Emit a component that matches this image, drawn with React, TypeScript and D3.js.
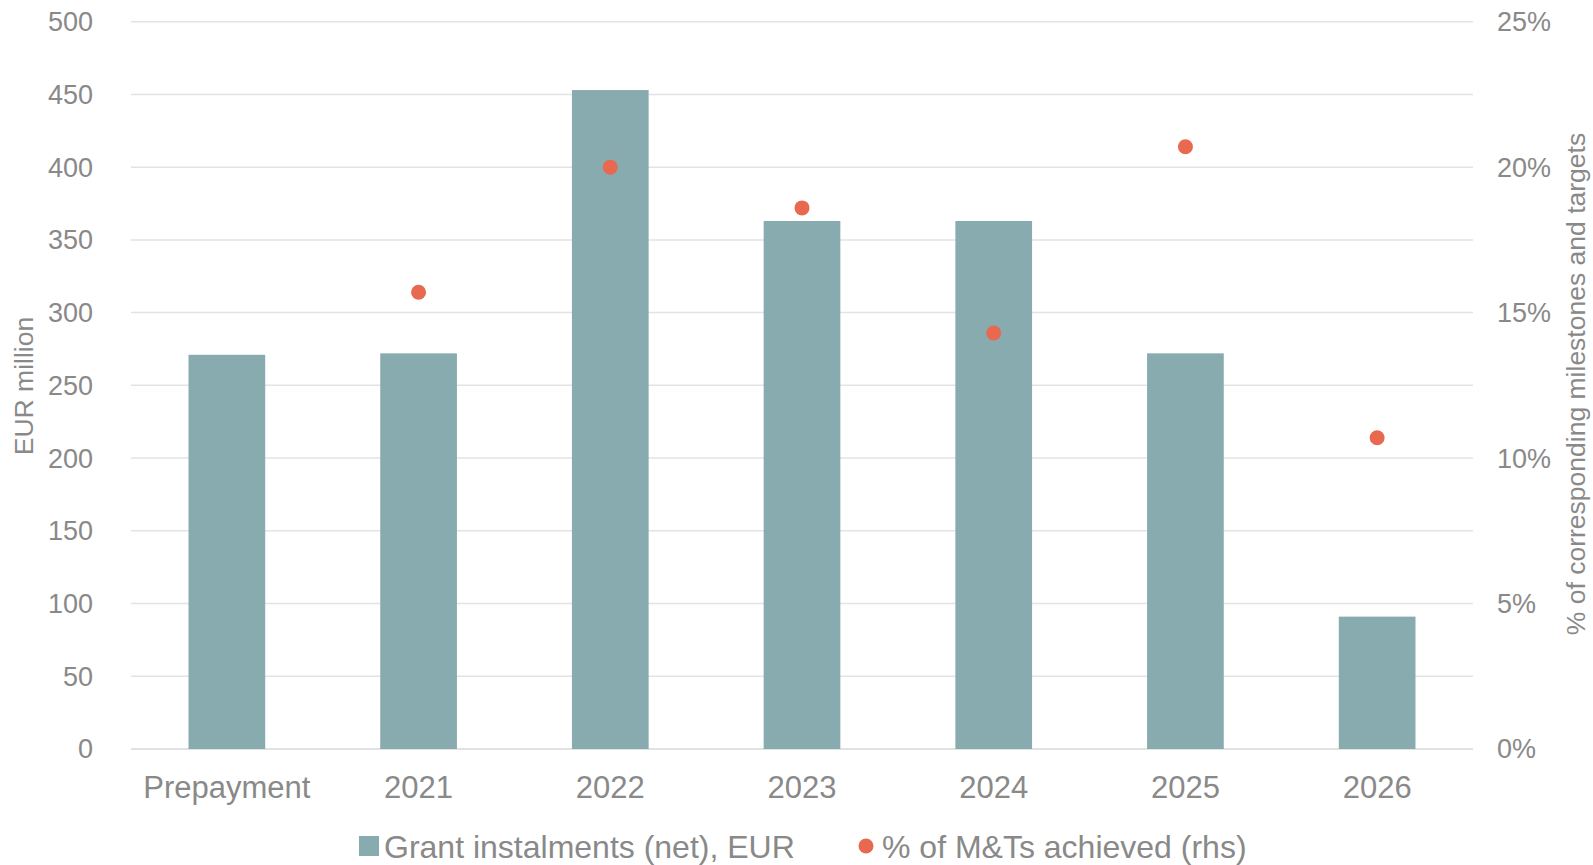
import * as d3 from 'd3'

const categories = ['Prepayment', '2021', '2022', '2023', '2024', '2025', '2026']
const grants = [271, 272, 453, 363, 363, 272, 91]
const achieved: (number | null)[] = [null, 15.7, 20.0, 18.6, 14.3, 20.7, 10.7]
const leftTicks = [0, 50, 100, 150, 200, 250, 300, 350, 400, 450, 500]
const rightTicks = [0, 5, 10, 15, 20, 25]

const W = 1593
const H = 865
const plot = { left: 131, right: 1473, top: 21.7, bottom: 749 }
const font = '"Liberation Sans", Arial, sans-serif'
const textColor = '#898989'
const barColor = '#87abae'
const dotColor = '#e8694f'

export default function App() {
  const x = d3.scaleBand<string>()
    .domain(categories)
    .range([plot.left, plot.right])
    .paddingInner(0.6)
    .paddingOuter(0.3)

  const y = d3.scaleLinear().domain([0, 500]).range([plot.bottom, plot.top])
  const y2 = d3.scaleLinear().domain([0, 25]).range([plot.bottom, plot.top])
  const cx = (c: string) => (x(c) as number) + x.bandwidth() / 2

  return (
    <svg width={W} height={H} style={{ position: 'absolute', left: 0, top: 0, background: '#fff' }} fontFamily={font}>
      {/* grid */}
      {leftTicks.map(t => (
        <line key={'g' + t} x1={plot.left} x2={plot.right} y1={y(t)} y2={y(t)}
          stroke={t === 0 ? '#d9d9d9' : '#e3e3e3'} strokeWidth={1.5} />
      ))}

      {/* bars */}
      {categories.map((c, i) => (
        <rect key={'b' + c} x={x(c)} y={y(grants[i])} width={x.bandwidth()}
          height={plot.bottom - y(grants[i])} fill={barColor} />
      ))}

      {/* dots on right axis */}
      {categories.map((c, i) => achieved[i] == null ? null : (
        <circle key={'d' + c} cx={cx(c)} cy={y2(achieved[i] as number)} r={7.5} fill={dotColor} />
      ))}

      {/* left ticks */}
      {leftTicks.map(t => (
        <text key={'l' + t} x={93} y={y(t)} dy="0.35em" textAnchor="end" fontSize={27} fill={textColor}>{t}</text>
      ))}

      {/* right ticks */}
      {rightTicks.map(t => (
        <text key={'r' + t} x={1497} y={y2(t)} dy="0.35em" textAnchor="start" fontSize={27} fill={textColor}>{t}%</text>
      ))}

      {/* category labels */}
      {categories.map(c => (
        <text key={'c' + c} x={cx(c)} y={787.5} dy="0.35em" textAnchor="middle"
          fontSize={31} fill={textColor}>{c}</text>
      ))}

      {/* axis titles */}
      <text transform="translate(24,386) rotate(-90)" dy="0.35em" textAnchor="middle" fontSize={26.5} fill={textColor}>EUR million</text>
      <text transform="translate(1576,384) rotate(-90)" dy="0.35em" textAnchor="middle" fontSize={26.5} fill={textColor}>% of corresponding milestones and targets</text>

      {/* legend */}
      <rect x={359} y={836} width={20} height={20} fill={barColor} />
      <text x={384} y={847} dy="0.35em" fontSize={32} fill={textColor}>Grant instalments (net), EUR</text>
      <circle cx={866} cy={846} r={7.5} fill={dotColor} />
      <text x={882} y={847} dy="0.35em" fontSize={32} fill={textColor}>% of M&amp;Ts achieved (rhs)</text>
    </svg>
  )
}
